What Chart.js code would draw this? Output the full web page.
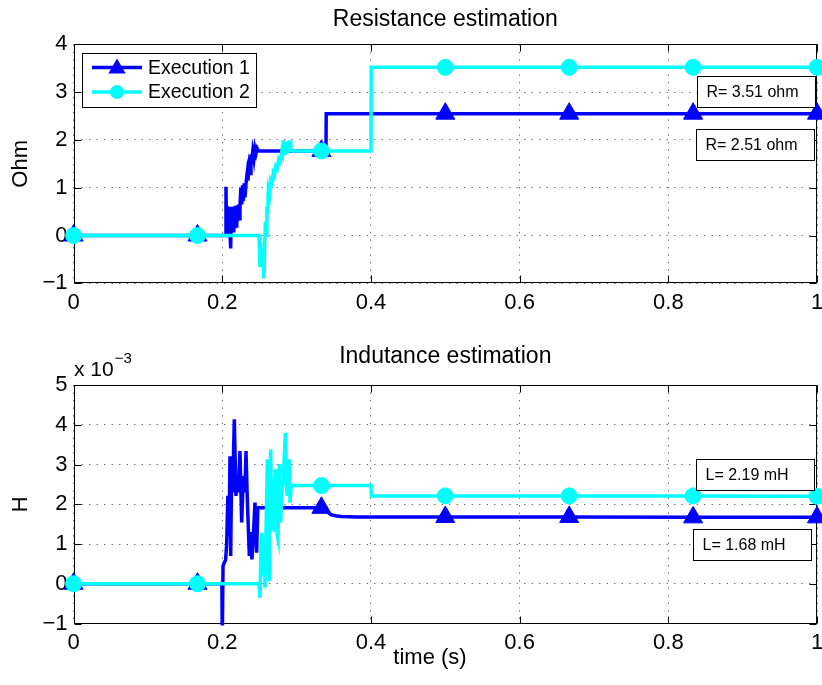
<!DOCTYPE html>
<html>
<head>
<meta charset="utf-8">
<script src="https://cdn.jsdelivr.net/npm/chart.js@4"></script>
<style>
html,body{margin:0;padding:0;background:#fff;}
#wrap{position:relative;width:822px;height:685px;overflow:hidden;}
#c1{position:absolute;left:0;top:0;}
#c2{position:absolute;left:0;top:330px;}
</style>
</head>
<body>
<div id="wrap">
<canvas id="c1" width="822" height="330"></canvas>
<canvas id="c2" width="822" height="355"></canvas>
</div>
<script>
// ---------------- DATA ----------------
const timeTicks = [0, 0.2, 0.4, 0.6, 0.8, 1];
const timeTickLabels = ['0', '0.2', '0.4', '0.6', '0.8', '1'];
const resTicks = [-1, 0, 1, 2, 3, 4];
const resTickLabels = ['\u22121', '0', '1', '2', '3', '4'];
const indTicks = [-1, 0, 1, 2, 3, 4, 5];
const indTickLabels = ['\u22121', '0', '1', '2', '3', '4', '5'];
const markerTimes = [0, 1/6, 1/3, 1/2, 2/3, 5/6, 1];
const seriesNames = ['Execution 1', 'Execution 2'];

// Resistance (Ohm) : [time s, value]
const resExec1 = [
  [0,0],[1/6,0],[0.2000,0],[0.2045,0],[0.2050,1.02],[0.2056,0.02],[0.2062,0.62],[0.2070,0.05],
  [0.2078,0.58],[0.2086,0.0],[0.2094,0.6],[0.2104,0.05],[0.2113,-0.27],[0.2120,0.55],[0.2128,0.08],
  [0.2136,0.6],[0.2145,0.1],[0.2155,0.55],[0.2165,0.15],[0.2175,0.62],[0.2185,0.2],[0.2195,0.6],
  [0.2205,0.3],[0.2216,0.65],[0.2228,0.35],[0.2238,0.6],[0.2250,1.0],[0.2261,0.65],[0.2272,1.05],
  [0.2283,0.72],[0.2295,1.09],[0.2305,0.8],[0.2320,1.1],[0.2335,1.3],[0.2345,1.15],[0.2360,1.43],
  [0.2373,1.3],[0.2386,1.7],[0.2395,1.5],[0.2410,1.75],[0.2425,1.6],[0.2440,1.82],[0.2455,1.72],
  [0.2470,1.82],[0.2485,1.77],[1/3,1.77],[0.3395,1.77],[0.3398,2.55],[0.5,2.55],[2/3,2.55],
  [5/6,2.55],[1,2.55]
];
const resExec2 = [
  [0,0],[1/6,0],[0.2494,0],[0.2507,-0.66],[0.2515,-0.15],[0.2525,-0.55],[0.2540,-0.3],[0.2561,-0.90],
  [0.2570,-0.2],[0.2580,0.3],[0.2590,0.0],[0.2600,0.6],[0.2610,0.45],[0.2620,0.95],[0.2635,0.85],
  [0.2650,1.15],[0.2665,1.1],[0.2686,1.3],[0.2700,1.25],[0.2720,1.45],[0.2740,1.4],[0.2760,1.6],
  [0.2780,1.55],[0.2799,1.75],[0.2810,1.7],[0.2821,1.99],[0.2832,1.72],[0.2843,1.95],[0.2855,1.7],
  [0.2866,1.9],[0.2878,1.72],[0.2890,1.98],[0.2902,1.75],[0.2911,1.99],[0.2922,1.78],[0.2940,1.77],
  [1/3,1.77],[0.4,1.77],[0.4003,3.52],[0.5,3.52],[2/3,3.52],[5/6,3.52],[1,3.52]
];
// Inductance (x 10^-3 H) : [time s, value]
const indExec1 = [
  [0,0],[1/6,0],[0.1995,0],[0.2000,-1.5],[0.2010,0.45],[0.2027,0.53],[0.2045,0.6],[0.2059,1.0],
  [0.2075,2.21],[0.2090,1.2],[0.2104,3.21],[0.2113,0.7],[0.2126,2.9],[0.2139,2.3],[0.2162,4.14],
  [0.2184,2.21],[0.2200,2.63],[0.2216,2.3],[0.2238,3.34],[0.2261,1.54],[0.2283,2.71],[0.2305,2.3],
  [0.2319,3.34],[0.2337,2.1],[0.2364,0.7],[0.2375,1.3],[0.2399,0.61],[0.2417,1.2],[0.2440,2.04],
  [0.2462,0.78],[0.2478,1.9],[0.2485,1.91],[1/3,1.91],[0.3395,1.91],[0.3420,1.80],[0.3460,1.74],
  [0.3520,1.71],[0.3600,1.69],[0.3800,1.68],[0.5,1.68],[2/3,1.68],[5/6,1.67],[1,1.67]
];
const indExec2 = [
  [0,0],[1/6,0],[0.2494,0],[0.2507,-0.35],[0.2520,0.9],[0.2530,1.28],[0.2545,0.2],[0.2561,1.2],
  [0.2574,-0.1],[0.2590,1.5],[0.2606,3.13],[0.2619,1.0],[0.2635,0.07],[0.2651,3.38],[0.2664,1.4],
  [0.2686,1.37],[0.2700,2.6],[0.2722,2.88],[0.2740,1.2],[0.2749,1.12],[0.2767,3.01],[0.2785,1.54],
  [0.2800,2.3],[0.2821,2.6],[0.2848,3.80],[0.2866,2.4],[0.2875,2.21],[0.2890,2.9],[0.2902,3.13],
  [0.2911,2.04],[0.2925,2.42],[0.2950,2.47],[1/3,2.47],[0.4,2.47],[0.4005,2.21],[0.5,2.21],
  [2/3,2.21],[5/6,2.21],[1,2.2]
];
const resNotes = [
  {text: 'R= 3.51 ohm', t: 0.8385, v: 3.02},
  {text: 'R= 2.51 ohm', t: 0.837, v: 1.91}
];
const indNotes = [
  {text: 'L= 2.19 mH', t: 0.837, v: 2.75},
  {text: 'L= 1.68 mH', t: 0.833, v: 0.99}
];

// ---------------- STYLE ----------------
const FONT = "'Liberation Sans', Arial, Helvetica, sans-serif";
const BLUE = '#0000ff';
const CYAN = '#00ffff';

function isMarker(x) {
  if (x === undefined) return false;
  return markerTimes.some(m => Math.abs(m - x) < 1e-9);
}

function makeDataset(label, data, color, style, r, order) {
  return {
    label: label,
    data: data.map(p => ({x: p[0], y: p[1]})),
    borderColor: color,
    backgroundColor: color,
    borderWidth: 3.5,
    pointStyle: style,
    pointRadius: ctx => (ctx.raw && isMarker(ctx.raw.x)) ? r : 0,
    pointHoverRadius: 0,
    pointBorderWidth: 1,
    pointBorderColor: color,
    pointBackgroundColor: color,
    tension: 0,
    order: order,
    clip: {left: 15, right: 15, top: 2, bottom: 2}
  };
}

const framePlugin = {
  id: 'frame',
  beforeDatasetsDraw(chart) {
    const {ctx, chartArea: a, scales} = chart;
    ctx.save();
    ctx.strokeStyle = '#000';
    ctx.lineWidth = 1;
    const L = Math.round(a.left) + 0.5, R = Math.round(a.right) - 0.5;
    const T = Math.round(a.top) + 0.5, B = Math.round(a.bottom) - 0.5;
    ctx.strokeRect(L, T, R - L, B - T);
    ctx.beginPath();
    scales.x.ticks.forEach(tk => {
      const px = Math.round(scales.x.getPixelForValue(tk.value)) + 0.5;
      ctx.moveTo(px, B); ctx.lineTo(px, B - 7);
      ctx.moveTo(px, T); ctx.lineTo(px, T + 7);
    });
    scales.y.ticks.forEach(tk => {
      const py = Math.round(scales.y.getPixelForValue(tk.value)) + 0.5;
      ctx.moveTo(L, py); ctx.lineTo(L + 7, py);
      ctx.moveTo(R, py); ctx.lineTo(R - 7, py);
    });
    ctx.stroke();
    ctx.restore();
  }
};

const notesPlugin = {
  id: 'notes',
  afterDatasetsDraw(chart, args, opts) {
    const {ctx, scales} = chart;
    ctx.save();
    ctx.font = '16px ' + FONT;
    ctx.textBaseline = 'middle';
    (opts.items || []).forEach(n => {
      const x = scales.x.getPixelForValue(n.t);
      const y = scales.y.getPixelForValue(n.v);
      const w = 118, h = 31;
      const bx = Math.round(x) + 0.5, by = Math.round(y - h / 2) + 0.5;
      ctx.fillStyle = '#fff';
      ctx.fillRect(bx, by, w, h);
      ctx.strokeStyle = '#000';
      ctx.lineWidth = 1;
      ctx.strokeRect(bx, by, w, h);
      ctx.fillStyle = '#000';
      ctx.fillText(n.text, bx + 9, y + 1);
    });
    ctx.restore();
  }
};

function drawTri(ctx, x, y, r) {
  ctx.beginPath();
  for (let i = 0; i < 3; i++) {
    const a = i * 2 * Math.PI / 3;
    const px = x + Math.sin(a) * r, py = y - Math.cos(a) * r;
    if (i === 0) ctx.moveTo(px, py); else ctx.lineTo(px, py);
  }
  ctx.closePath();
  ctx.fill();
}

const legendPlugin = {
  id: 'mlegend',
  afterDraw(chart, args, opts) {
    if (!opts.show) return;
    const ctx = chart.ctx;
    ctx.save();
    const bx = 82.5, by = 53.5, bw = 174, bh = 54;
    ctx.fillStyle = '#fff';
    ctx.fillRect(bx, by, bw, bh);
    ctx.strokeStyle = '#000';
    ctx.lineWidth = 1;
    ctx.strokeRect(bx, by, bw, bh);
    const rows = [
      {y: 67.5, color: BLUE, tri: true},
      {y: 92, color: CYAN, tri: false}
    ];
    ctx.font = '19.5px ' + FONT;
    ctx.textBaseline = 'middle';
    rows.forEach((r, i) => {
      ctx.strokeStyle = r.color;
      ctx.fillStyle = r.color;
      ctx.lineWidth = 3.5;
      ctx.beginPath();
      ctx.moveTo(92, r.y); ctx.lineTo(142, r.y);
      ctx.stroke();
      if (r.tri) drawTri(ctx, 117, r.y + 1, 10);
      else { ctx.beginPath(); ctx.arc(117, r.y, 7, 0, Math.PI * 2); ctx.fill(); }
      ctx.fillStyle = '#000';
      ctx.fillText(seriesNames[i], 148, r.y + 1);
    });
    ctx.restore();
  }
};

const expPlugin = {
  id: 'exponent',
  afterDraw(chart, args, opts) {
    if (!opts.show) return;
    const ctx = chart.ctx;
    ctx.save();
    ctx.fillStyle = '#000';
    ctx.textBaseline = 'middle';
    ctx.font = '21px ' + FONT;
    const base = 'x 10';
    ctx.fillText(base, 74, 40);
    const w = ctx.measureText(base).width;
    ctx.font = '15px ' + FONT;
    ctx.fillText('\u22123', 74 + w + 1, 29);
    ctx.restore();
  }
};

function makeChart(canvasId, cfg) {
  const tickFont = {family: FONT, size: 22};
  return new Chart(document.getElementById(canvasId), {
    type: 'line',
    data: {datasets: cfg.datasets},
    plugins: [framePlugin, notesPlugin, legendPlugin, expPlugin],
    options: {
      responsive: false,
      animation: false,
      devicePixelRatio: 1,
      layout: {autoPadding: false, padding: {left: 0, right: 5, top: 0, bottom: 0}},
      scales: {
        x: {
          type: 'linear', min: 0, max: 1,
          afterBuildTicks: s => { s.ticks = timeTicks.map(v => ({value: v})); },
          afterFit: s => { s.height = cfg.xHeight; s.paddingLeft = 0; s.paddingRight = 0; },
          ticks: {
            font: tickFont, color: '#000', padding: 6, maxRotation: 0, autoSkip: false,
            callback: (v, i) => timeTickLabels[i]
          },
          grid: {color: '#777', lineWidth: 1, drawTicks: false},
          border: {display: false, dash: [1.5, 6]},
          title: cfg.xTitle ? {display: true, text: cfg.xTitle + '\u00a0\u00a0\u00a0\u00a0\u00a0', color: '#000',
            font: {family: FONT, size: 22}, padding: {top: 0, bottom: 14}} : {display: false}
        },
        y: {
          type: 'linear', min: cfg.yTicks[0], max: cfg.yTicks[cfg.yTicks.length - 1],
          afterBuildTicks: s => { s.ticks = cfg.yTicks.map(v => ({value: v})); },
          afterFit: s => { s.width = 73.6; s.paddingTop = 0; s.paddingBottom = 0; },
          ticks: {
            font: tickFont, color: '#000', padding: 6, autoSkip: false,
            callback: (v, i) => cfg.yLabels[i]
          },
          grid: {color: '#777', lineWidth: 1, drawTicks: false},
          border: {display: false, dash: [1.5, 6]},
          title: {display: true, text: cfg.yTitle, color: '#000',
            font: {family: FONT, size: 22}, padding: {top: 8, bottom: 0}}
        }
      },
      plugins: {
        legend: {display: false},
        tooltip: {enabled: false},
        title: {
          display: true, text: cfg.title, color: '#000', fullSize: false,
          font: {family: FONT, size: 23, weight: 'normal'},
          padding: cfg.titlePad
        },
        notes: {items: cfg.notes},
        mlegend: {show: cfg.legend},
        exponent: {show: cfg.exponent}
      }
    }
  });
}

makeChart('c1', {
  title: 'Resistance estimation',
  titlePad: {top: 6, bottom: 10.8},
  yTitle: 'Ohm',
  yTicks: resTicks, yLabels: resTickLabels,
  xHeight: 46.7,
  xTitle: null,
  notes: resNotes,
  legend: true,
  exponent: false,
  datasets: [
    makeDataset(seriesNames[0], resExec1, BLUE, 'triangle', 11, 2),
    makeDataset(seriesNames[1], resExec2, CYAN, 'circle', 8, 1)
  ]
});

makeChart('c2', {
  title: 'Indutance estimation',
  titlePad: {top: 13.2, bottom: 14.2},
  yTitle: 'H',
  yTicks: indTicks, yLabels: indTickLabels,
  xHeight: 61.5,
  xTitle: 'time (s)',
  notes: indNotes,
  legend: false,
  exponent: true,
  datasets: [
    makeDataset(seriesNames[0], indExec1, BLUE, 'triangle', 11, 2),
    makeDataset(seriesNames[1], indExec2, CYAN, 'circle', 8, 1)
  ]
});
</script>
</body>
</html>
